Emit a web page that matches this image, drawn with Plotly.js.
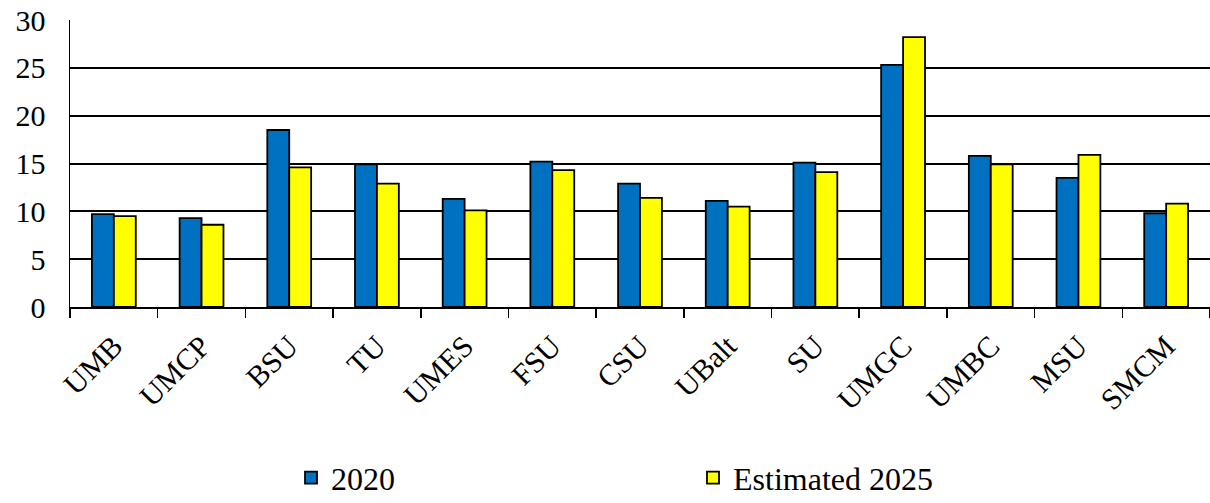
<!DOCTYPE html>
<html>
<head>
<meta charset="utf-8">
<script src="https://cdn.plot.ly/plotly-3.0.1.min.js"></script>
<style>html,body{margin:0;padding:0;background:#fff;}#chart{width:1210px;height:503px;}</style>
</head>
<body>
<div id="chart"></div>
<script>
const categories = ["UMB","UMCP","BSU","TU","UMES","FSU","CSU","UBalt","SU","UMGC","UMBC","MSU","SMCM"];
const values2020 = [9.7, 9.3, 18.5, 14.9, 11.3, 15.2, 12.9, 11.1, 15.1, 25.3, 15.8, 13.5, 9.8];
const valuesEst2025 = [9.5, 8.6, 14.6, 12.9, 10.1, 14.3, 11.4, 10.5, 14.1, 28.2, 14.9, 15.9, 10.8];
const seriesNames = ["2020", "Estimated 2025"];
const yTicks = [0, 5, 10, 15, 20, 25, 30];

const font = "Liberation Serif, Times New Roman, serif";

const traces = [
  {type: "bar", name: seriesNames[0], x: categories, y: values2020,
   marker: {color: "#0070C0", line: {color: "#000", width: 1.8}}, legend: "legend"},
  {type: "bar", name: seriesNames[1], x: categories, y: valuesEst2025,
   marker: {color: "#FFFF00", line: {color: "#000", width: 1.8}}, legend: "legend2"}
];

const legendCommon = {orientation: "h", yref: "container", yanchor: "middle", y: 0.05,
  xref: "container", xanchor: "left",
  font: {family: font, size: 32, color: "#000"}, itemwidth: 30, bgcolor: "rgba(0,0,0,0)", borderwidth: 0};

const layout = {
  width: 1210, height: 503,
  margin: {l: 70, r: 0, t: 20, b: 196, autoexpand: false},
  paper_bgcolor: "#fff", plot_bgcolor: "#fff",
  barmode: "group", bargap: 0.5, bargroupgap: 0,
  showlegend: true,
  legend: Object.assign({}, legendCommon, {x: 291 / 1210}),
  legend2: Object.assign({}, legendCommon, {x: 693 / 1210}),
  font: {family: font, color: "#000"},
  xaxis: {
    type: "category", showline: true, linecolor: "#000", linewidth: 1.5,
    ticks: "outside", tickson: "boundaries", ticklen: 9, tickwidth: 1.5, tickcolor: "#000",
    tickangle: -45, tickfont: {family: font, size: 30, color: "#000"}, ticklabelstandoff: 8,
    showgrid: false, mirror: false, automargin: false
  },
  yaxis: {
    range: [0, 30], tickvals: yTicks, showline: true, linecolor: "#000", linewidth: 1.5,
    showgrid: true, gridcolor: "#000", gridwidth: 2, zeroline: false, automargin: false,
    ticks: "", tickfont: {family: font, size: 30, color: "#000"}, ticklabelstandoff: 17
  }
};

Plotly.newPlot("chart", traces, layout, {staticPlot: true, displayModeBar: false});
</script>
</body>
</html>
